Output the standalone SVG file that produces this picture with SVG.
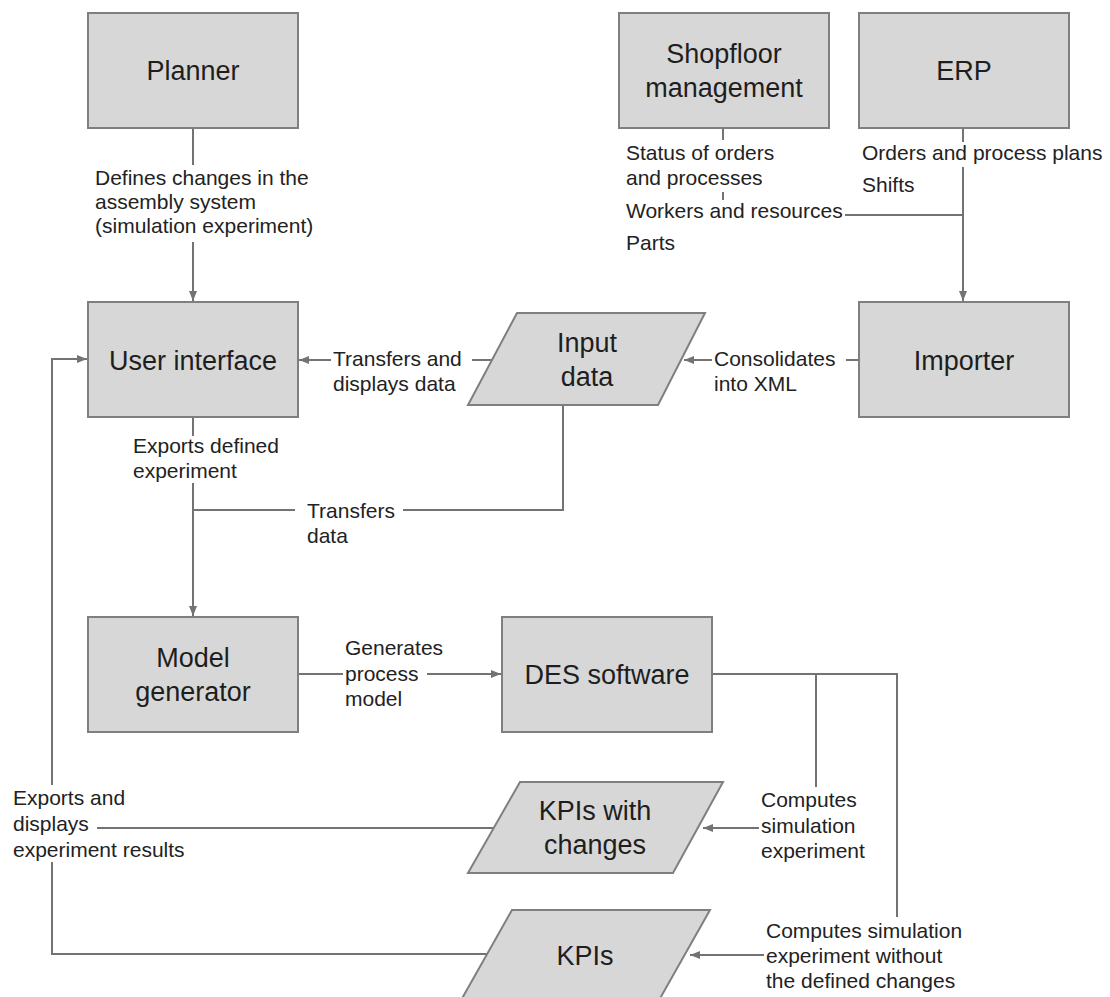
<svg xmlns="http://www.w3.org/2000/svg" width="1110" height="997" viewBox="0 0 1110 997">
<style>
.box{fill:#d7d7d7;stroke:#7f7f7f;stroke-width:2}
.nt{font-family:"Liberation Sans",Arial,sans-serif;font-size:27px;fill:#1e1e1e;text-anchor:middle}
.lb{font-family:"Liberation Sans",Arial,sans-serif;font-size:21px;fill:#222}
.ln{fill:none;stroke:#737373;stroke-width:2}
</style>
<defs>
<marker id="ah" viewBox="0 0 10 8" refX="10" refY="4" markerWidth="10" markerHeight="8" markerUnits="userSpaceOnUse" orient="auto">
<path d="M0,0 L10,4 L0,8 z" fill="#737373"/>
</marker>
</defs>
<rect width="1110" height="997" fill="#ffffff"/>

<g id="connectors">
<!-- Planner to UI -->
<path class="ln" d="M193,128 V165"/>
<path class="ln" d="M193,242 V301" marker-end="url(#ah)"/>
<!-- Shopfloor -->
<path class="ln" d="M723,128 V140"/>
<path class="ln" d="M723,192 V200"/>
<path class="ln" d="M845,215 H963"/>
<!-- ERP to Importer -->
<path class="ln" d="M963,128 V142"/>
<path class="ln" d="M963,167 V301" marker-end="url(#ah)"/>
<!-- Importer to Input data -->
<path class="ln" d="M858,360 H846"/>
<path class="ln" d="M712,360 H684" marker-end="url(#ah)"/>
<!-- Input data to UI -->
<path class="ln" d="M494,360 H472"/>
<path class="ln" d="M331,360 H299" marker-end="url(#ah)"/>
<!-- Input data to Model generator -->
<path class="ln" d="M563,405 V510 H403"/>
<path class="ln" d="M295,510 H193"/>
<!-- UI to Model generator -->
<path class="ln" d="M193,417 V436"/>
<path class="ln" d="M193,483 V616" marker-end="url(#ah)"/>
<!-- Model generator to DES -->
<path class="ln" d="M299,674 H343"/>
<path class="ln" d="M427,674 H501" marker-end="url(#ah)"/>
<!-- DES to KPIs -->
<path class="ln" d="M712,674 H897 V917"/>
<path class="ln" d="M816,674 V787"/>
<path class="ln" d="M759,828 H703" marker-end="url(#ah)"/>
<path class="ln" d="M764,955 H690" marker-end="url(#ah)"/>
<!-- KPIs feedback to UI -->
<path class="ln" d="M494,828 H97"/>
<path class="ln" d="M487,954 H52 V862"/>
<path class="ln" d="M52,785 V359 H87" marker-end="url(#ah)"/>
</g>

<g id="labels">
<text class="lb" x="95" y="185">Defines changes in the</text>
<text class="lb" x="95" y="209">assembly system</text>
<text class="lb" x="95" y="233">(simulation experiment)</text>
<text class="lb" x="626" y="160">Status of orders</text>
<text class="lb" x="626" y="185">and processes</text>
<text class="lb" x="626" y="218">Workers and resources</text>
<text class="lb" x="626" y="250">Parts</text>
<text class="lb" x="862" y="160">Orders and process plans</text>
<text class="lb" x="862" y="192">Shifts</text>
<text class="lb" x="333" y="366">Transfers and</text>
<text class="lb" x="333" y="391">displays data</text>
<text class="lb" x="714" y="366">Consolidates</text>
<text class="lb" x="714" y="391">into XML</text>
<text class="lb" x="133" y="453">Exports defined</text>
<text class="lb" x="133" y="478">experiment</text>
<text class="lb" x="307" y="518">Transfers</text>
<text class="lb" x="307" y="543">data</text>
<text class="lb" x="345" y="655">Generates</text>
<text class="lb" x="345" y="681">process</text>
<text class="lb" x="345" y="706">model</text>
<text class="lb" x="761" y="807">Computes</text>
<text class="lb" x="761" y="833">simulation</text>
<text class="lb" x="761" y="858">experiment</text>
<text class="lb" x="766" y="938">Computes simulation</text>
<text class="lb" x="766" y="963">experiment without</text>
<text class="lb" x="766" y="988">the defined changes</text>
<text class="lb" x="13" y="805">Exports and</text>
<text class="lb" x="13" y="831">displays</text>
<text class="lb" x="13" y="857">experiment results</text>
</g>

<g id="planner">
<rect class="box" x="88" y="13" width="210" height="115"/>
<text class="nt" x="193" y="80">Planner</text>
</g>
<g id="shopfloor">
<rect class="box" x="619" y="13" width="210" height="115"/>
<text class="nt" x="724" y="63">Shopfloor</text>
<text class="nt" x="724" y="97">management</text>
</g>
<g id="erp">
<rect class="box" x="859" y="13" width="210" height="115"/>
<text class="nt" x="964" y="80">ERP</text>
</g>
<g id="user-interface">
<rect class="box" x="88" y="302" width="210" height="115"/>
<text class="nt" x="193" y="370">User interface</text>
</g>
<g id="input-data">
<polygon class="box" points="517,313 705,313 658,405 468,405"/>
<text class="nt" x="587" y="352">Input</text>
<text class="nt" x="587" y="386">data</text>
</g>
<g id="importer">
<rect class="box" x="859" y="302" width="210" height="115"/>
<text class="nt" x="964" y="370">Importer</text>
</g>
<g id="model-generator">
<rect class="box" x="88" y="617" width="210" height="115"/>
<text class="nt" x="193" y="667">Model</text>
<text class="nt" x="193" y="701">generator</text>
</g>
<g id="des-software">
<rect class="box" x="502" y="617" width="210" height="115"/>
<text class="nt" x="607" y="684">DES software</text>
</g>
<g id="kpis-with-changes">
<polygon class="box" points="520,782 723,782 673,873 468,873"/>
<text class="nt" x="595" y="820">KPIs with</text>
<text class="nt" x="595" y="854">changes</text>
</g>
<g id="kpis">
<polygon class="box" points="512,910 710,910 658,1002 460,1002"/>
<text class="nt" x="585" y="965">KPIs</text>
</g>
</svg>
